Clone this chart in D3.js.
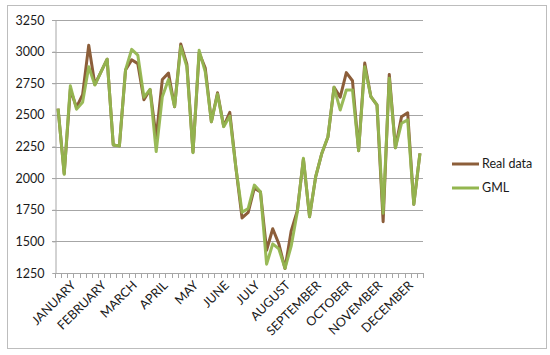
<!DOCTYPE html>
<html>
<head>
<meta charset="utf-8">
<script src="https://cdn.jsdelivr.net/npm/d3@7"></script>
<style>
  html, body { margin: 0; padding: 0; background: #fff; }
  svg text { font-family: Lato, "Open Sans", sans-serif; fill: #1a1a1a; }
</style>
</head>
<body>
<svg id="chart" width="550" height="355"></svg>
<script>
// ---- data ----
const months = ["JANUARY","FEBRUARY","MARCH","APRIL","MAY","JUNE","JULY","AUGUST","SEPTEMBER","OCTOBER","NOVEMBER","DECEMBER"];
const realData = [
  2550, 2035, 2700, 2560, 2660, 3050, 2740, 2840, 2940, 2262,
  2255, 2855, 2935, 2905, 2620, 2700, 2320, 2780, 2830, 2565,
  3060, 2900, 2205, 2990, 2870, 2446, 2675, 2410, 2520, 2080,
  1685, 1730, 1920, 1890, 1430, 1600, 1480, 1285, 1580, 1740,
  2150, 1695, 2010, 2195, 2325, 2718, 2640, 2834, 2770, 2217,
  2910, 2644, 2578, 1655, 2820, 2240, 2486, 2517, 1793, 2196
];
const gmlData = [
  2550, 2030, 2730, 2545, 2600, 2880, 2736, 2840, 2940, 2262,
  2254, 2855, 3018, 2973, 2640, 2702, 2210, 2644, 2780, 2565,
  3040, 2880, 2201, 3010, 2840, 2446, 2665, 2407, 2490, 2080,
  1730, 1760, 1945, 1893, 1320, 1480, 1440, 1287, 1460, 1730,
  2157, 1695, 2011, 2196, 2327, 2718, 2539, 2697, 2697, 2217,
  2880, 2644, 2578, 1722, 2790, 2240, 2434, 2460, 1793, 2196
];
const yTicks = [1250, 1500, 1750, 2000, 2250, 2500, 2750, 3000, 3250];
const seriesNames = ["Real data", "GML"];
const seriesColors = ["#8c5e3a", "#93b64f"];

// ---- layout ----
const svg = d3.select("#chart");
const plot = { left: 55, right: 423, top: 20, bottom: 273 };
const n = realData.length;
const idx = d3.range(n);

svg.append("rect")
  .attr("x", 7.5).attr("y", 5.5).attr("width", 539).attr("height", 343)
  .attr("fill", "#fff").attr("stroke", "#bdbdbd").attr("stroke-width", 1);

const x = d3.scaleBand().domain(idx).range([plot.left, plot.right]).paddingInner(0).paddingOuter(0);
const xc = i => x(i) + x.bandwidth() / 2;
const y = d3.scaleLinear().domain([1250, 3250]).range([plot.bottom, plot.top]);

// gridlines
svg.append("g").selectAll("line").data(yTicks.filter(t => t > 1250)).join("line")
  .attr("x1", plot.left - 3).attr("x2", plot.right)
  .attr("y1", d => Math.round(y(d)) + 0.5).attr("y2", d => Math.round(y(d)) + 0.5)
  .attr("stroke", "#a6a6a6").attr("stroke-width", 1);

// y axis
const yAxis = d3.axisLeft(y).tickValues(yTicks).tickFormat(d3.format("d")).tickSize(3).tickPadding(8);
const gy = svg.append("g").attr("transform", `translate(${plot.left + 0.5},0)`).call(yAxis);
gy.select(".domain").attr("stroke", "#a6a6a6");
gy.selectAll(".tick line").attr("stroke", "#a6a6a6");
gy.selectAll(".tick text").attr("font-size", "12.5px").attr("fill", "#1a1a1a")
  .style("font-family", "Lato, 'Open Sans', sans-serif");

// x axis: ticks at category boundaries
const gx = svg.append("g");
gx.append("line").attr("x1", plot.left).attr("x2", plot.right)
  .attr("y1", plot.bottom + 0.5).attr("y2", plot.bottom + 0.5).attr("stroke", "#a6a6a6");
gx.selectAll("line.tk").data(d3.range(n + 1)).join("line").attr("class", "tk")
  .attr("x1", i => Math.round(plot.left + i * x.bandwidth()) + 0.5)
  .attr("x2", i => Math.round(plot.left + i * x.bandwidth()) + 0.5)
  .attr("y1", plot.bottom).attr("y2", plot.bottom + 5)
  .attr("stroke", "#a6a6a6");

// month labels at the middle week of each month
gx.selectAll("text").data(months).join("text")
  .attr("transform", (m, k) => `translate(${xc(k * 5 + 2) + 3},${plot.bottom + 10}) rotate(-45)`)
  .attr("text-anchor", "end").attr("dy", "0.35em")
  .attr("font-size", "12.5px")
  .text(d => d);

// lines
const line = d3.line().x((d, i) => xc(i)).y(d => y(d));
[realData, gmlData].forEach((data, k) => {
  svg.append("path").datum(data)
    .attr("d", line)
    .attr("fill", "none")
    .attr("stroke", seriesColors[k])
    .attr("stroke-width", 3)
    .attr("stroke-linejoin", "round")
    .attr("opacity", k === 0 ? 1 : 0.95);
});

// legend
const legend = svg.append("g");
seriesNames.forEach((name, k) => {
  const ly = 164 + k * 24;
  legend.append("line").attr("x1", 452).attr("x2", 479).attr("y1", ly).attr("y2", ly)
    .attr("stroke", seriesColors[k]).attr("stroke-width", 3);
  legend.append("text").attr("x", 482).attr("y", ly).attr("dy", "0.35em")
    .attr("font-size", "12.5px").text(name);
});
</script>
</body>
</html>
